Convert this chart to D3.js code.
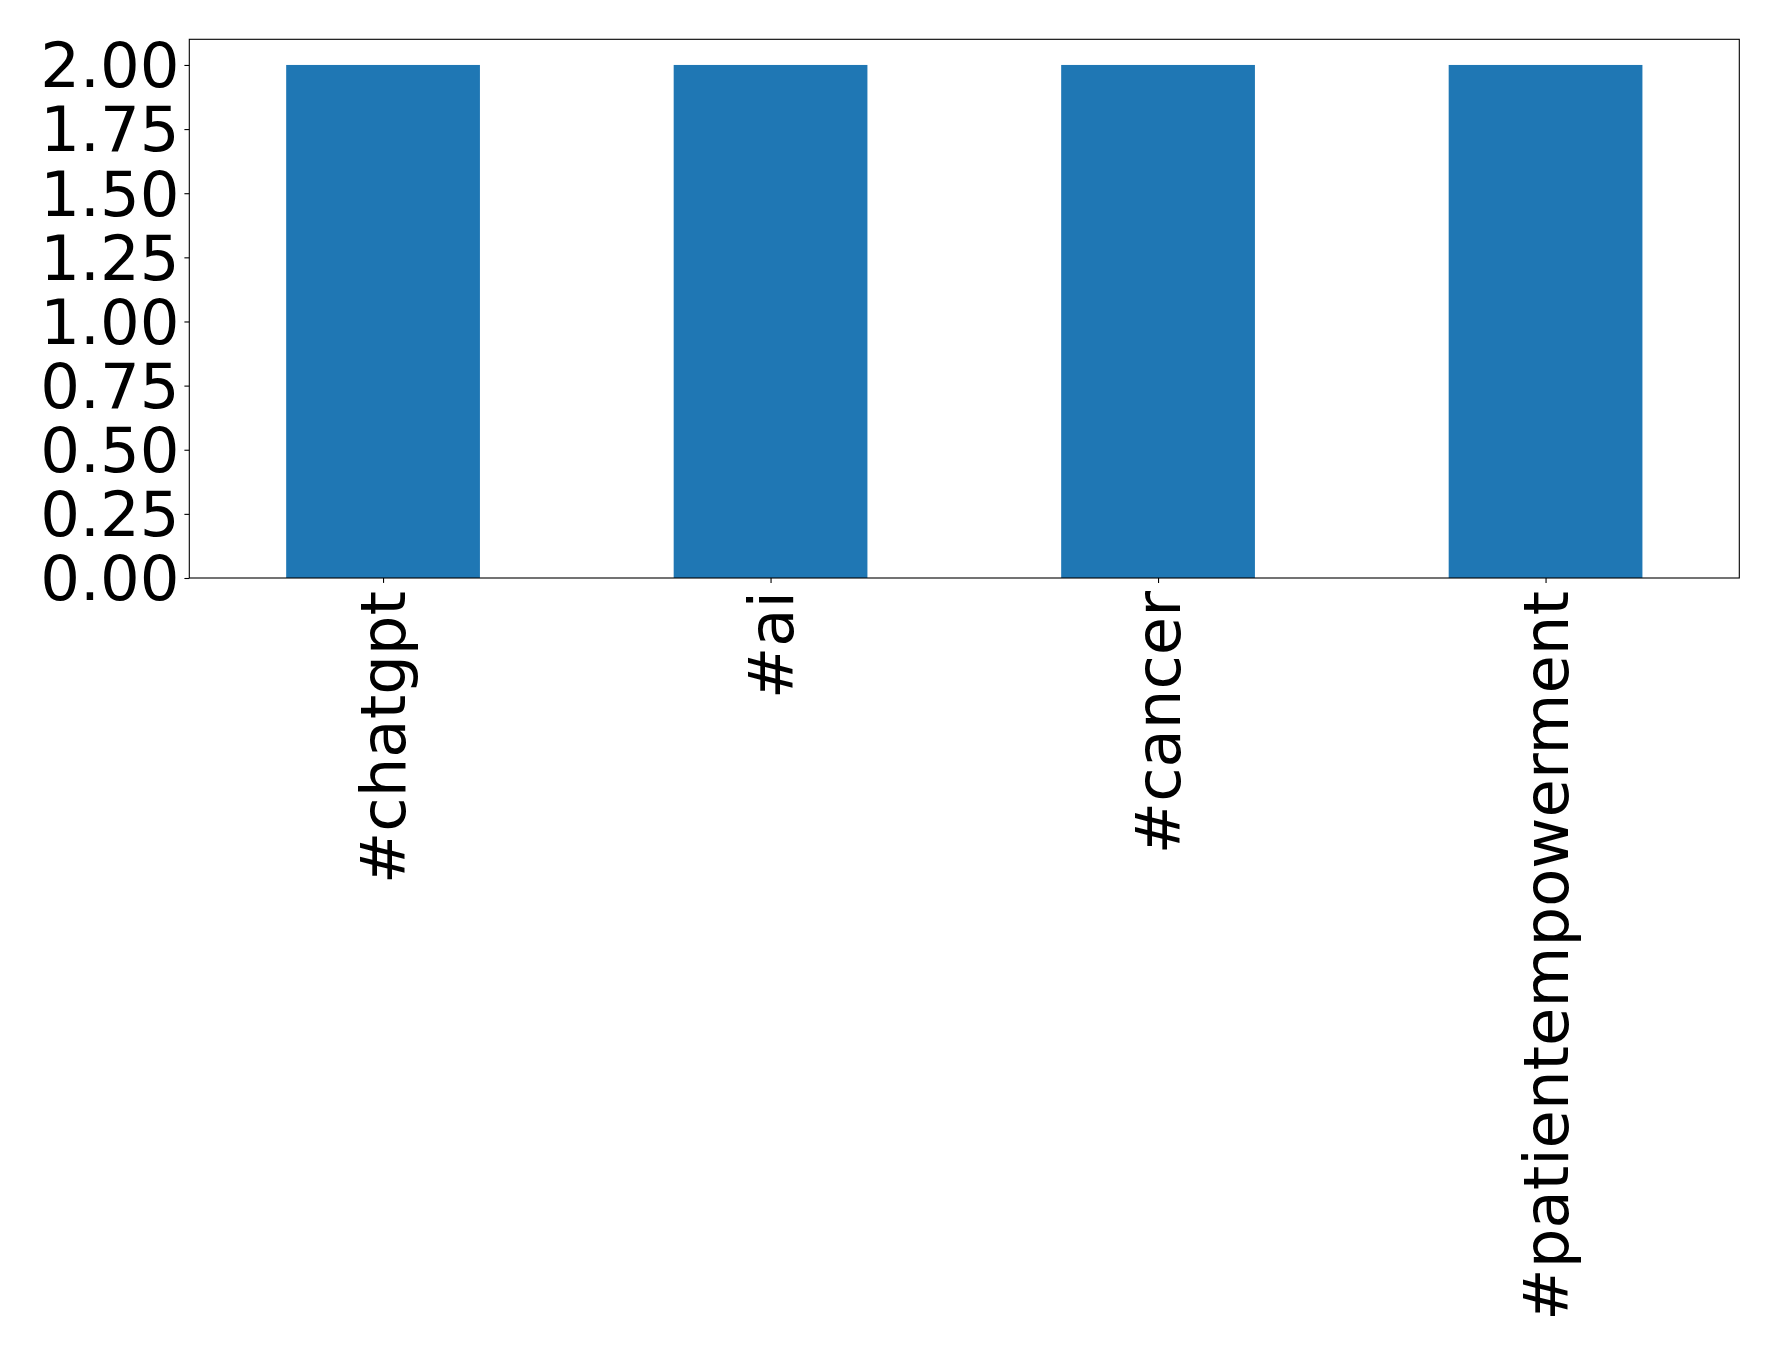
<!DOCTYPE html>
<html>
<head>
<meta charset="utf-8">
<script src="https://cdn.jsdelivr.net/npm/d3@7"></script>
<style>
  html, body { margin: 0; padding: 0; background: #fff; }
  svg { display: block; }
  text { font-family: "DejaVu Sans", sans-serif; fill: #000; }
</style>
</head>
<body>
<svg id="chart" width="1778" height="1357"></svg>
<script>
const categories = ["#chatgpt", "#ai", "#cancer", "#patientempowerment"];
const values = [2, 2, 2, 2];
const yTicks = [0, 0.25, 0.5, 0.75, 1.0, 1.25, 1.5, 1.75, 2.0];

const W = 1778, H = 1357;
const m = { left: 189.3, right: 1739.3, top: 39.3, bottom: 578 };
const svg = d3.select("#chart");

const x = d3.scaleLinear().domain([-0.5, categories.length - 0.5]).range([m.left, m.right]);
const y = d3.scaleLinear().domain([0, 2.1]).range([m.bottom, m.top]);
const barW = 0.5;

svg.append("g").selectAll("rect").data(values).join("rect")
  .attr("x", (d, i) => x(i - barW / 2))
  .attr("width", (d, i) => x(i + barW / 2) - x(i - barW / 2))
  .attr("y", d => y(d))
  .attr("height", d => y(0) - y(d))
  .attr("fill", "#1f77b4");

const fs = 62.5;
// y axis
const yAxis = d3.axisLeft(y).tickValues(yTicks).tickFormat(d3.format(".2f")).tickSize(4.9).tickPadding(4.9);
const gy = svg.append("g").attr("transform", `translate(${m.left},0)`).call(yAxis);
gy.select(".domain").remove();
gy.selectAll("line").attr("stroke", "#000").attr("stroke-width", 1.1);
gy.selectAll("text").attr("font-size", fs).attr("font-family", "DejaVu Sans").attr("dy", "0.35em");

// x axis
const xAxis = d3.axisBottom(x).tickValues(categories.map((c, i) => i)).tickFormat(i => categories[i]).tickSize(4.9).tickPadding(4.9);
const gx = svg.append("g").attr("transform", `translate(0,${m.bottom})`).call(xAxis);
gx.select(".domain").remove();
gx.selectAll("line").attr("stroke", "#000").attr("stroke-width", 1.1);
gx.selectAll("text")
  .attr("font-size", fs).attr("font-family", "DejaVu Sans")
  .attr("text-anchor", "end")
  .attr("dy", null)
  .attr("dominant-baseline", "central")
  .attr("transform", "translate(0,13) rotate(-90)")
  .attr("y", 0).attr("x", 0);

// frame
svg.append("rect")
  .attr("x", m.left).attr("y", m.top)
  .attr("width", m.right - m.left).attr("height", m.bottom - m.top)
  .attr("fill", "none").attr("stroke", "#000").attr("stroke-width", 1.1);
</script>
</body>
</html>
